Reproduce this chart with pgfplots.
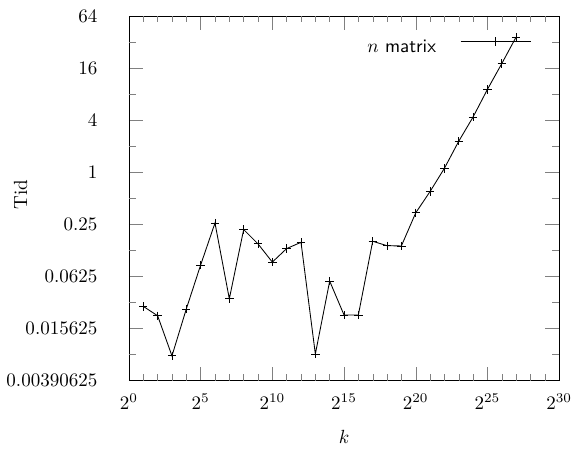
\documentclass[border=0pt]{standalone}
\usepackage{pgfplots}
\pgfplotsset{compat=1.18}
\begin{document}
\begin{tikzpicture}
\useasboundingbox (-67.7pt,-35.4pt) rectangle (233.1pt,199.8pt);
\begin{axis}[
  at={(0,0)}, anchor=south west,
  scale only axis,
  width=225.8pt, height=191.4pt,
  xmode=log, ymode=log,
  log basis x=2, log basis y=2,
  xmin=1, xmax=1073741824,
  ymin=0.00390625, ymax=64,
  xtick={1,32,1024,32768,1048576,33554432,1073741824},
  extra x ticks={2,4,8,16,64,128,256,512,2048,4096,8192,16384,65536,131072,262144,524288,2097152,4194304,8388608,16777216,67108864,134217728,268435456,536870912},
  extra x tick labels={},
  extra x tick style={major tick length=3.4pt},
  ytick={0.00390625,0.015625,0.0625,0.25,1,4,16,64},
  yticklabels={0.00390625,0.015625,0.0625,0.25,1,4,16,64},
  extra y ticks={0.0078125,0.03125,0.125,0.5,2,8,32},
  extra y tick labels={},
  extra y tick style={major tick length=3.8pt},
  major tick length=7.35pt,
  tick align=inside,
  yticklabel style={xshift=-13pt},
  xticklabel style={yshift=-3.7pt},
  xlabel={$k$},
  ylabel={Tid},
  xlabel style={at={(axis description cs:0.5,-0.155)}, anchor=center},
  ylabel style={at={(axis description cs:-0.252,0.51)}, anchor=center},
  legend style={draw=none, fill=none, at={(axis description cs:0.937,0.917)}, anchor=east, inner sep=0pt, nodes={inner sep=0pt}, /tikz/column sep=12.6pt},
  legend plot pos=right,
  legend cell align=right,
  legend image code/.code={\draw[#1, mark repeat=2, mark phase=2, yshift=3pt] plot coordinates {(0pt,0pt) (18.55pt,0pt) (37.1pt,0pt)};},
]
\addplot[black, line width=0.45pt, mark=+, mark size=2.2pt, mark options={line width=0.45pt}] coordinates {
(2,0.02816)
(4,0.02194)
(8,0.007546)
(16,0.02628)
(32,0.08479)
(64,0.2588)
(128,0.03443)
(256,0.2176)
(512,0.1487)
(1024,0.09151)
(2048,0.1312)
(4096,0.155)
(8192,0.007922)
(16384,0.05517)
(32768,0.02241)
(65536,0.02241)
(131072,0.1593)
(262144,0.1416)
(524288,0.1406)
(1048576,0.3392)
(2097152,0.5987)
(4194304,1.1096)
(8388608,2.2816)
(16777216,4.347)
(33554432,9.063)
(67108864,18.0)
(134217728,36.5)
};
\addlegendentry{$n$ \textsf{matrix}}
\end{axis}
\end{tikzpicture}
\end{document}
